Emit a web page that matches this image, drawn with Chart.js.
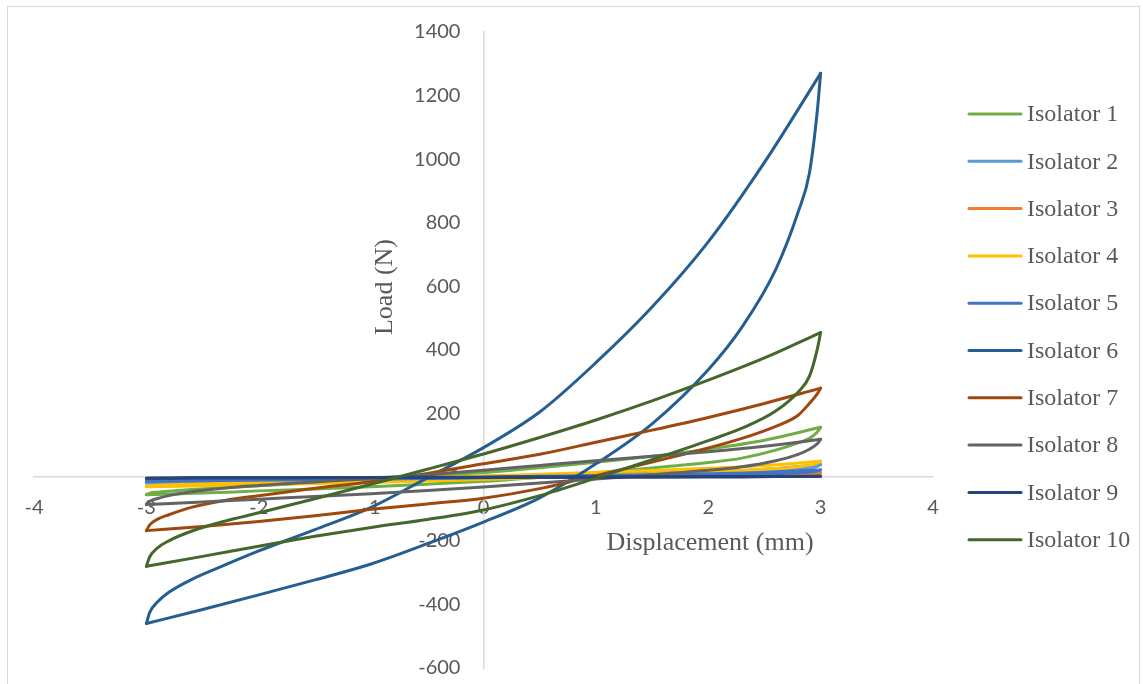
<!DOCTYPE html>
<html>
<head>
<meta charset="utf-8">
<script src="https://cdn.jsdelivr.net/npm/chart.js@4.4.1/dist/chart.umd.min.js"></script>
<style>
  html, body { margin: 0; padding: 0; background: #ffffff; }
  #wrap { position: relative; width: 1143px; height: 684px; overflow: hidden; }
  #frame { position: absolute; left: 7px; top: 6px; width: 1133px; height: 700px; border: 1px solid #d9d9d9; box-sizing: border-box; pointer-events: none; }
  canvas { position: absolute; left: 0; top: 0; }
</style>
</head>
<body>
<div id="wrap">
  <canvas id="chart" width="1143" height="684"></canvas>
  <div id="frame"></div>
</div>
<script>
// Displacement samples (mm) shared by every branch, ascending
const dispGridLoad   = [-3, -2.97, -2.9, -2.8, -2.6, -2.3, -2, -1.5, -1, -0.5, 0, 0.5, 1, 1.5, 2, 2.5, 3];
const dispGridUnload = [-3, -2.5, -2, -1.5, -1, -0.5, 0, 0.5, 1, 1.5, 2, 2.3, 2.6, 2.8, 2.9, 2.97, 3];

// Load (N): loading branch on dispGridLoad, unloading branch on dispGridUnload
const iso1Load    = [-55, -50, -47, -44, -39, -33, -27, -17, -7, 4, 15, 30, 47, 66, 88, 116, 157];
const iso1Unload  = [-55, -50, -43, -37, -30, -22, -13, 0, 14, 29, 46, 60, 85, 108, 122, 142, 157];
const iso2Load    = [-18, -16, -15, -14, -13, -11, -9, -6, -3, 0, 3, 6, 9, 13, 18, 25, 40];
const iso2Unload  = [-18, -15, -12, -10, -8, -6, -3, 0, 3, 7, 11, 14, 19, 24, 28, 33, 40];
const iso3Load    = [-10, -9, -8, -8, -7, -6, -5, -3, -2, 0, 1, 3, 4, 6, 8, 10, 13];
const iso3Unload  = [-10, -8, -6, -5, -4, -3, -2, -1, 1, 2, 4, 5, 6, 8, 9, 11, 13];
const iso4Load    = [-30, -27, -25, -24, -22, -19, -16, -11, -6, -1, 4, 9, 15, 21, 28, 37, 50];
const iso4Unload  = [-30, -27, -23, -20, -16, -12, -7, -1, 5, 11, 17, 21, 27, 33, 38, 44, 50];
const iso5Load    = [-13, -12, -11, -11, -10, -9, -8, -6, -4, -2, 0, 3, 5, 8, 11, 15, 23];
const iso5Unload  = [-13, -11, -9, -8, -6, -4, -2, 0, 2, 4, 7, 9, 11, 14, 16, 19, 23];
const iso6Load    = [-460, -425, -392, -362, -322, -276, -232, -165, -95, -2, 93, 205, 360, 535, 740, 990, 1270];
const iso6Unload  = [-460, -416, -370, -323, -273, -209, -141, -65, 42, 168, 338, 472, 653, 834, 956, 1150, 1270];
const iso7Load    = [-168, -150, -132, -118, -95, -73, -58, -35, -14, 12, 42, 72, 110, 148, 188, 232, 280];
const iso7Unload  = [-168, -155, -139, -121, -101, -84, -66, -36, 5, 48, 92, 122, 160, 195, 232, 262, 280];
const iso8Load    = [-86, -76, -67, -58, -46, -34, -26, -15, -4, 8, 22, 37, 52, 66, 80, 97, 119];
const iso8Unload  = [-86, -78, -69, -61, -52, -42, -31, -18, -6, 8, 22, 33, 52, 72, 88, 105, 119];
const iso9Load    = [-3, -3, -3, -3, -2, -2, -2, -1, -1, 0, 0, 1, 1, 1, 2, 2, 3];
const iso9Unload  = [-3, -2, -2, -2, -1, -1, -1, 0, 0, 1, 1, 1, 2, 2, 2, 3, 3];
const iso10Load   = [-280, -250, -222, -200, -170, -138, -112, -68, -22, 25, 73, 125, 180, 240, 305, 375, 455];
const iso10Unload = [-280, -249, -217, -186, -158, -133, -103, -58, -3, 55, 115, 154, 208, 268, 317, 402, 455];

const seriesNames = ['Isolator 1', 'Isolator 2', 'Isolator 3', 'Isolator 4', 'Isolator 5',
                     'Isolator 6', 'Isolator 7', 'Isolator 8', 'Isolator 9', 'Isolator 10'];
const seriesColors = ['#70AD47', '#5B9BD5', '#ED7D31', '#FFC000', '#4472C4',
                      '#255E91', '#9E480E', '#636363', '#264478', '#43682B'];
const loadBranches = [iso1Load, iso2Load, iso3Load, iso4Load, iso5Load, iso6Load, iso7Load, iso8Load, iso9Load, iso10Load];
const unloadBranches = [iso1Unload, iso2Unload, iso3Unload, iso4Unload, iso5Unload, iso6Unload, iso7Unload, iso8Unload, iso9Unload, iso10Unload];

const xTicks = [-4, -3, -2, -1, 0, 1, 2, 3, 4];
const yTicks = [-600, -400, -200, 0, 200, 400, 600, 800, 1000, 1200, 1400];

function toPoints(grid, values) {
  return grid.map((d, i) => ({ x: d, y: values[i] }));
}

// Each isolator's hysteresis loop is drawn as its two branches
const datasets = [];
seriesNames.forEach((name, i) => {
  const style = {
    borderColor: seriesColors[i],
    backgroundColor: seriesColors[i],
    borderWidth: 3,
    pointRadius: 0,
    showLine: true,
    fill: false,
    cubicInterpolationMode: 'monotone',
    borderJoinStyle: 'round',
    borderCapStyle: 'round',
    order: seriesNames.length - i
  };
  datasets.push(Object.assign({ label: name, data: toPoints(dispGridLoad, loadBranches[i]) }, style));
  datasets.push(Object.assign({ label: name, data: toPoints(dispGridUnload, unloadBranches[i]) }, style));
});

const textGray = '#595959';
const serif = '"Liberation Serif", "Times New Roman", serif';
const tickFont = { family: 'Lato', size: 20 };

// Axis titles and the legend column on the right
const decorations = {
  id: 'decorations',
  afterDraw(chart) {
    const ctx = chart.ctx;
    ctx.save();
    ctx.fillStyle = textGray;
    ctx.font = '26px ' + serif;
    ctx.textAlign = 'center';
    ctx.textBaseline = 'middle';
    ctx.fillText('Displacement (mm)', 710, 543);
    ctx.save();
    ctx.translate(385, 287);
    ctx.rotate(-Math.PI / 2);
    ctx.fillText('Load (N)', 0, 0);
    ctx.restore();

    ctx.font = '24px ' + serif;
    ctx.textAlign = 'left';
    seriesNames.forEach((name, i) => {
      const y = 114 + i * 47.3;
      ctx.strokeStyle = seriesColors[i];
      ctx.lineWidth = 3;
      ctx.lineCap = 'round';
      ctx.beginPath();
      ctx.moveTo(969, y);
      ctx.lineTo(1021, y);
      ctx.stroke();
      ctx.fillStyle = textGray;
      ctx.fillText(name, 1027, y + 1);
    });
    ctx.restore();
  }
};

const plainLabel = v => String(v);

new Chart(document.getElementById('chart'), {
  type: 'scatter',
  data: { datasets },
  options: {
    responsive: false,
    animation: false,
    layout: { padding: { left: 34, right: 210, top: 32, bottom: 16 } },
    plugins: { legend: { display: false }, tooltip: { enabled: false } },
    scales: {
      x: {
        type: 'linear',
        min: -4, max: 4,
        position: { y: 0 },
        afterBuildTicks(scale) { scale.ticks = xTicks.map(v => ({ value: v })); },
        grid: { display: false, drawTicks: false },
        border: { display: true, color: '#d9d9d9', width: 1.5 },
        ticks: { color: textGray, font: tickFont, padding: 18, callback: plainLabel }
      },
      // value axis drawn through x = 0 (line only)
      y: {
        type: 'linear',
        min: -600, max: 1400,
        position: { x: 0 },
        afterBuildTicks(scale) { scale.ticks = yTicks.map(v => ({ value: v })); },
        grid: { display: false, drawTicks: false },
        border: { display: true, color: '#d9d9d9', width: 1.5 },
        ticks: { display: false }
      },
      // tick labels of the value axis, set slightly left of the axis line
      yLabels: {
        type: 'linear',
        axis: 'y',
        min: -600, max: 1400,
        position: { x: -0.205 },
        afterBuildTicks(scale) { scale.ticks = yTicks.map(v => ({ value: v })); },
        grid: { display: false, drawTicks: false },
        border: { display: false },
        ticks: { color: textGray, font: tickFont, padding: 0, callback: plainLabel }
      }
    }
  },
  plugins: [decorations]
});
</script>
</body>
</html>
